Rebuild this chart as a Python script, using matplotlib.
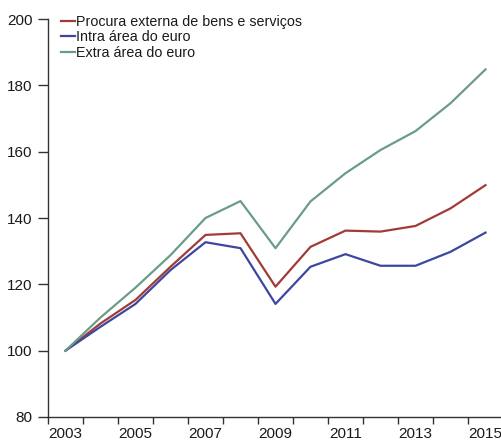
import numpy as np
import matplotlib.pyplot as plt

plt.rcParams['font.family'] = ['Liberation Sans', 'DejaVu Sans']

anos = list(range(2003, 2016))
procura = [100, 108.2, 115.3, 125.3, 134.9, 135.4, 119.3, 131.3, 136.2, 135.9, 137.6, 142.9, 149.9]
intra = [100, 107.2, 114.1, 124.3, 132.7, 130.9, 114.1, 125.3, 129.1, 125.6, 125.6, 129.8, 135.6]
extra = [100, 110.0, 119.0, 128.8, 140.0, 145.1, 130.9, 145.0, 153.5, 160.5, 166.2, 174.6, 184.8]

fig = plt.figure(figsize=(5.02, 4.43), dpi=100)
ax = fig.add_axes([48/502, 26/443, 455/502, 398/443])

x = np.arange(len(anos))
ax.plot(x, procura, color='#a23b36', lw=1.6, label='Procura externa de bens e serviços')
ax.plot(x, intra, color='#3c47a0', lw=1.6, label='Intra área do euro')
ax.plot(x, extra, color='#6b9c8a', lw=1.6, label='Extra área do euro')

ax.set_xlim(-0.5, len(anos) - 0.5)
ax.set_ylim(80, 200)
ax.set_yticks(range(80, 201, 20))

# category axis: tick marks between years, labels every other year
ax.set_xticks(np.arange(len(anos) + 1) - 0.5)
ax.set_xticklabels([])
ax.set_xticks(x[::2], minor=True)
ax.set_xticklabels([str(a) for a in anos[::2]], minor=True)
ax.tick_params(axis='x', which='minor', length=0, pad=7)
ax.tick_params(axis='x', which='major', length=5, width=1, color='#333333')
ax.tick_params(axis='y', length=7, width=1, color='#333333', pad=4)
ax.tick_params(labelsize=11, labelcolor='#1a1a1a')
ax.tick_params(axis='x', which='minor', labelsize=11, labelcolor='#1a1a1a')

for s in ['top', 'right']:
    ax.spines[s].set_visible(False)
for s in ['left', 'bottom']:
    ax.spines[s].set_color('#333333')
    ax.spines[s].set_linewidth(1)

leg = ax.legend(loc='upper left', bbox_to_anchor=(0.015, 1.025), frameon=False,
                fontsize=10.3, handlelength=1.0, handletextpad=0.1,
                labelspacing=0.1, borderaxespad=0)
for t in leg.get_texts():
    t.set_color('#1a1a1a')

fig.savefig('out.png', dpi=100)
